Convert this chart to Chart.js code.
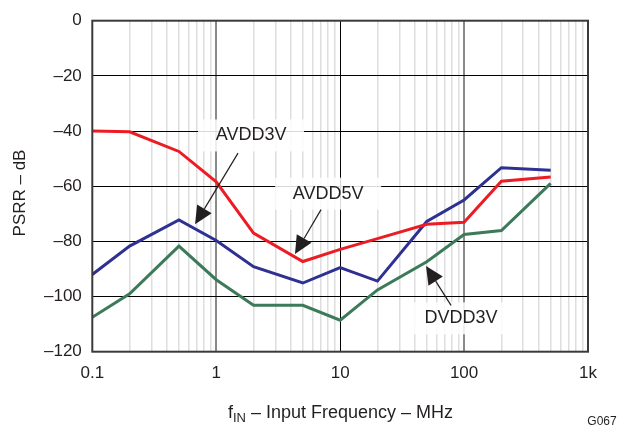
<!DOCTYPE html>
<html>
<head>
<meta charset="utf-8">
<script src="https://cdn.jsdelivr.net/npm/chart.js@4"></script>
<style>
  body { margin: 0; background: #fff; }
  canvas { display: block; }
</style>
</head>
<body>
<canvas id="psrr-chart" width="621" height="427"></canvas>
<script>
// input frequency (MHz) and PSRR (dB) per supply
var freqs  = [0.1, 0.2, 0.5, 1, 2, 5, 10, 20, 50, 100, 200, 500];
var avdd5v = [-40, -40.3, -47.4, -58.4, -77, -87.3, -82.9, -79, -73.8, -73.1, -58.2, -56.7];
var avdd3v = [-92, -81.7, -72.2, -79.7, -89.2, -95.1, -89.5, -94.4, -72.8, -65, -53.3, -54.2];
var dvdd3v = [-107.5, -99, -81.7, -93.9, -103.2, -103.2, -108.6, -97.6, -87.4, -77.5, -76.1, -59];

var xMajor = [0.1, 1, 10, 100, 1000];
var xTickLabels = ['0.1', '1', '10', '100', '1k'];
var yTicks = [0, -20, -40, -60, -80, -100, -120];

// callouts: label position and arrow (data coords)
var callouts = [
  { text: 'AVDD3V', x: 1.91, y: -41.6, from: [1.50, -48.0], to: [0.675, -73.8] },
  { text: 'AVDD5V', x: 8.0,  y: -62.7, from: [7.01, -68.5], to: [4.32, -84.6] },
  { text: 'DVDD3V', x: 94.4, y: -107.9, from: [78.5, -103.2], to: [49.3, -88.9] }
];

var FONT = '"Liberation Sans", Arial, Helvetica, sans-serif';
var INK = '#231f20';

function pts(ys) {
  return freqs.map(function(f, i) { return { x: f, y: ys[i] }; });
}

function gridTicks() {
  var t = [];
  for (var d = 0; d < xMajor.length - 1; d++) {
    for (var m = 1; m < 10; m++) t.push(xMajor[d] * m);
  }
  t.push(xMajor[xMajor.length - 1]);
  return t;
}

var calloutPlugin = {
  id: 'callouts',
  beforeDatasetsDraw: function(chart) {
    var c = chart.ctx, xs = chart.scales.x, ys = chart.scales.y;
    c.save();
    c.fillStyle = 'rgba(255,255,255,0.85)';
    callouts.forEach(function(a) {
      var px = xs.getPixelForValue(a.x), py = ys.getPixelForValue(a.y);
      c.fillRect(px - 53, py - 16, 106, 32);
    });
    c.restore();
  },
  afterDatasetsDraw: function(chart) {
    var c = chart.ctx, xs = chart.scales.x, ys = chart.scales.y, area = chart.chartArea;
    c.save();
    c.fillStyle = INK;
    c.strokeStyle = INK;
    c.font = '18px ' + FONT;
    c.textAlign = 'center';
    c.textBaseline = 'middle';
    callouts.forEach(function(a) {
      c.fillText(a.text, xs.getPixelForValue(a.x), ys.getPixelForValue(a.y));
      var x1 = xs.getPixelForValue(a.from[0]), y1 = ys.getPixelForValue(a.from[1]);
      var x2 = xs.getPixelForValue(a.to[0]), y2 = ys.getPixelForValue(a.to[1]);
      var ang = Math.atan2(y2 - y1, x2 - x1), len = 18, hw = 8.5;
      var bx = x2 - len * Math.cos(ang), by = y2 - len * Math.sin(ang);
      c.lineWidth = 1.2;
      c.beginPath(); c.moveTo(x1, y1); c.lineTo(bx, by); c.stroke();
      c.beginPath();
      c.moveTo(x2, y2);
      c.lineTo(bx + hw * Math.sin(ang), by - hw * Math.cos(ang));
      c.lineTo(bx - hw * Math.sin(ang), by + hw * Math.cos(ang));
      c.closePath(); c.fill();
    });
    // frame
    c.strokeStyle = '#3a3a3a';
    c.lineWidth = 2;
    c.strokeRect(area.left, area.top, area.right - area.left, area.bottom - area.top);
    c.restore();
  },
  afterDraw: function(chart) {
    var c = chart.ctx;
    c.save();
    c.fillStyle = INK;
    // y title
    c.font = '17px ' + FONT;
    c.translate(20, 193);
    c.rotate(-Math.PI / 2);
    c.textAlign = 'center';
    c.textBaseline = 'middle';
    c.fillText('PSRR – dB', 0, 0);
    c.setTransform(1, 0, 0, 1, 0, 0);
    // x title with subscript
    var rest = ' – Input Frequency – MHz';
    c.textAlign = 'left';
    c.textBaseline = 'alphabetic';
    c.font = '18px ' + FONT;
    var wf = c.measureText('f').width, wr = c.measureText(rest).width;
    c.font = '13px ' + FONT;
    var ws = c.measureText('IN').width;
    var x0 = 340.5 - (wf + ws + wr) / 2, base = 418;
    c.font = '18px ' + FONT;
    c.fillText('f', x0, base);
    c.font = '13px ' + FONT;
    c.fillText('IN', x0 + wf, base + 4);
    c.font = '18px ' + FONT;
    c.fillText(rest, x0 + wf + ws, base);
    // figure id
    c.font = '12px ' + FONT;
    c.textAlign = 'center';
    c.textBaseline = 'middle';
    c.fillText('G067', 602, 422);
    c.restore();
  }
};

var ctx = document.getElementById('psrr-chart').getContext('2d');

var psrrChart = new Chart(ctx, {
  type: 'line',
  data: {
    datasets: [
      { label: 'AVDD5V', data: pts(avdd5v), borderColor: '#ed1c24' },
      { label: 'AVDD3V', data: pts(avdd3v), borderColor: '#2e3192' },
      { label: 'DVDD3V', data: pts(dvdd3v), borderColor: '#3d7a5a' }
    ]
  },
  options: {
    responsive: false,
    animation: false,
    devicePixelRatio: 1,
    layout: { padding: { top: 16.5, right: 33, left: 0, bottom: 0 } },
    elements: {
      line: { borderWidth: 3, tension: 0, borderJoinStyle: 'miter' },
      point: { radius: 0 }
    },
    plugins: {
      legend: { display: false },
      tooltip: { enabled: false }
    },
    scales: {
      x: {
        type: 'logarithmic',
        min: 0.1,
        max: 1000,
        afterBuildTicks: function(scale) {
          scale.ticks = gridTicks().map(function(v) { return { value: v }; });
        },
        afterFit: function(scale) { scale.height = 75.3; },
        border: { display: false },
        grid: {
          drawTicks: false,
          color: function(c) {
            var v = c.tick && c.tick.value;
            if (v === 0.1 || v === 1000) return 'rgba(0,0,0,0)';
            if (v === 10) return '#000';
            if (v === 1 || v === 100) return '#8a8a8a';
            return '#dedede';
          },
          lineWidth: function(c) {
            var v = c.tick && c.tick.value;
            if (v === 1 || v === 100) return 2;
            if (v === 10) return 1;
            return 1.5;
          }
        },
        ticks: {
          autoSkip: false,
          maxRotation: 0,
          padding: 11.5,
          color: INK,
          font: { family: FONT, size: 17 },
          callback: function(v) {
            var i = xMajor.indexOf(Number(v));
            return i >= 0 ? xTickLabels[i] : '';
          }
        }
      },
      y: {
        min: -120,
        max: 0,
        afterBuildTicks: function(scale) {
          scale.ticks = yTicks.map(function(v) { return { value: v }; });
        },
        afterFit: function(scale) { scale.width = 92.3; },
        border: { display: false },
        grid: {
          drawTicks: false,
          color: function(c) {
            var v = c.tick && c.tick.value;
            return (v === 0 || v === -120) ? 'rgba(0,0,0,0)' : '#000';
          },
          lineWidth: 1
        },
        ticks: {
          padding: 10.5,
          color: INK,
          font: { family: FONT, size: 17 },
          callback: function(v) { return v === 0 ? '0' : '–' + Math.abs(v); }
        }
      }
    }
  },
  plugins: [calloutPlugin]
});
</script>
</body>
</html>
